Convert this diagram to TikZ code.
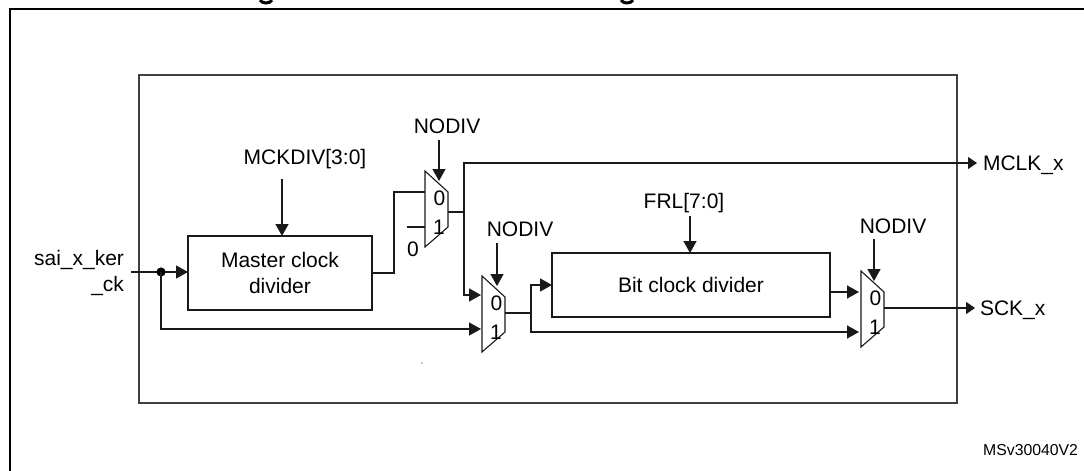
\documentclass[tikz,border=0pt]{standalone}
\usepackage{fontspec}
\setmainfont{Liberation Sans}
\usetikzlibrary{arrows.meta}
\tikzset{
  wire/.style={line width=1.4pt,color=black!90},
  sig/.style={wire,-{Triangle[length=12pt,width=13pt]}},
  outsig/.style={wire,-{Triangle[length=9pt,width=12pt]}},
  block/.style={draw=black!90,line width=1.4pt,inner sep=0pt,outer sep=0pt,align=center},
  lbl/.style={inner sep=0pt,outer sep=0pt,font=\fontsize{21}{26}\selectfont},
  muxlbl/.style={lbl,font=\fontsize{21}{25}\selectfont}
}
\begin{document}
\begin{tikzpicture}[x=1pt,y=-1pt]
\useasboundingbox (0,0) rectangle (1084,471);

% Page frame and title remains
\draw[line width=2.4pt] (10,471) -- (10,9) -- (1084,9);
\draw[line width=3pt] (260,0) .. controls (262,4) and (270,4) .. (272,0);
\draw[line width=3pt] (621,0) .. controls (623,4) and (631,4) .. (633,0);

% Outer block
\draw[line width=1.5pt,color=black!75] (139,75) rectangle (957,403);
\fill (422,363) circle (0.6);

% Divider blocks
\node[block,lbl,minimum width=184pt,minimum height=74pt] (master) at (280,273) {Master clock\\divider};
\node[block,lbl,minimum width=278pt,minimum height=64pt] (bitdiv) at (691,285) {Bit clock divider};

% Multiplexers
\foreach \name/\x/\y/\s in {muxa/425/171/14,muxb/482/276/15,muxc/861/271/13}{
  \draw[line width=1.1pt,color=black!90] (\x,\y) -- ++(23,21) -- ++(0,35) -- ++(-23,20) -- cycle;
  \node[muxlbl] (\name-zero) at (\x+14.5,\y+27) {0};
  \node[muxlbl] (\name-one) at (\x+14,\y+56) {1};
  \coordinate (\name-out) at (\x+23,\y+41);
  \coordinate (\name-sel) at (\x+\s,\y+10);
}
\coordinate (muxa-ina) at (425,192);
\coordinate (muxa-inb) at (425,227);
\coordinate (muxb-ina) at (481,295);
\coordinate (muxb-inb) at (481,329);
\coordinate (muxc-ina) at (859,292);
\coordinate (muxc-inb) at (859,332);

% Signal names
\node[lbl,align=right,anchor=east] (kerck) at (124,273) {sai\_x\_ker\\\_ck};
\node[lbl] (mckdiv) at (305,159) {MCKDIV[3:0]};
\node[lbl] (nodiva) at (447,126) {NODIV};
\node[lbl] (nodivb) at (520,229) {NODIV};
\node[lbl] (nodivc) at (893,226) {NODIV};
\node[lbl] (frl) at (684,203) {FRL[7:0]};
\node[lbl,anchor=west] (mclk) at (983,165) {MCLK\_x};
\node[lbl,anchor=west] (sck) at (980,310) {SCK\_x};
\node[lbl,font=\fontsize{15.8}{19}\selectfont,anchor=east] (msv) at (1078,450) {MSv30040V2};
\node[muxlbl] (tiezero) at (413,249) {0};

% Free ends of the wires
\coordinate (kerin) at (131,272);
\coordinate (split) at (161,272);
\coordinate (tiein) at (407,227);
\coordinate (mckin) at (282,179);
\coordinate (frlin) at (690,216);
\coordinate (selain) at (439,140);
\coordinate (selbin) at (497,243);
\coordinate (selcin) at (874,239);
\coordinate (tapa) at (464,212);
\coordinate (tapb) at (531,313);
\coordinate (mclkin) at (977,163);
\coordinate (sckin) at (975,308);
\coordinate (benda) at (394,192);

% Input side
\draw[sig] (kerin) -- (kerin -| master.west);
\fill[black] (split) circle (4.6);
\draw[sig] (split) |- (muxb-inb);
\draw[sig] (mckin) -- (mckin |- master.north);

% First mux
\draw[wire] (master.east) -| (benda) -- (muxa-ina);
\draw[wire] (tiein) -- (muxa-inb);
\draw[sig] (selain) -- (muxa-sel);
\draw[wire] (muxa-out) -- (tapa);
\draw[outsig] (tapa) |- (mclkin);
\draw[sig] (tapa) |- (muxb-ina);

% Second mux
\draw[sig] (selbin) -- (muxb-sel);
\draw[wire] (muxb-out |- tapb) -- (tapb);
\draw[sig] (tapb) |- (bitdiv.west);
\draw[sig] (tapb) |- (muxc-inb);
\draw[sig] (frlin) -- (frlin |- bitdiv.north);

% Third mux
\draw[sig] (bitdiv.east |- muxc-ina) -- (muxc-ina);
\draw[sig] (selcin) -- (muxc-sel);
\draw[outsig] (muxc-out |- sckin) -- (sckin);
\end{tikzpicture}
\end{document}
